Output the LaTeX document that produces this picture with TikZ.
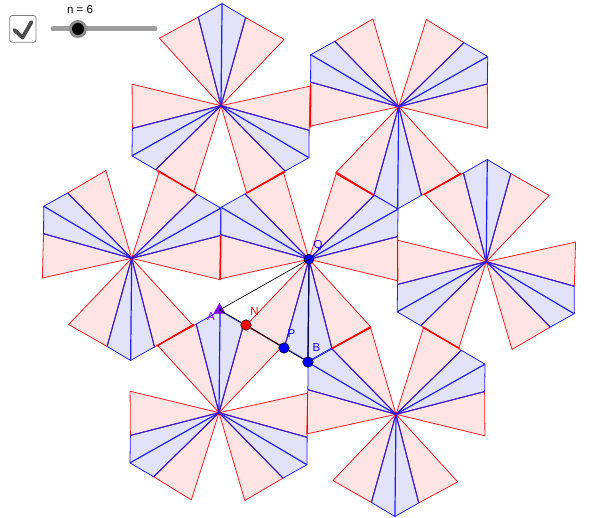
\documentclass[tikz,border=0pt]{standalone}
\usepackage{fontspec}
\usetikzlibrary{shapes.geometric}
\setmainfont{Liberation Sans}
\definecolor{rfill}{RGB}{255,228,228}
\definecolor{bfill}{RGB}{226,226,250}
\definecolor{redl}{RGB}{250,30,40}
\definecolor{bluel}{RGB}{30,30,240}
\definecolor{sidel}{RGB}{60,25,205}
\definecolor{purp}{RGB}{125,0,255}
\tikzset{
  x=1pt,y=1pt,
  redtri/.style={fill=rfill,draw=redl,line width=0.8pt,line join=round},
  bluekite/.style={fill=bfill,draw=bluel,line width=0.8pt,line join=round},
  spoke/.style={draw=bluel,line width=1.2pt},
  sidespoke/.style={draw=sidel,line width=1pt},
  shared/.style={draw=red,line width=1.5pt},
  dot/.style={circle,draw=black,line width=0.5pt,inner sep=0pt,minimum size=10.5pt},
  lab/.style={font=\fontsize{11.5}{13}\selectfont,inner sep=0pt},
  seg/.style={draw=black,line width=0.7pt}
}
% \fig{cx}{cy}{rotation}
\newcommand{\fig}[3]{%
\begin{scope}[shift={(#1,-#2)},rotate=#3-0.6]
  \foreach \a in {90,210,330}{
    \filldraw[redtri] (0,0) -- (\a+15:91.5) -- (\a+43:91.5) -- cycle;
    \filldraw[redtri] (0,0) -- (\a-15:91.5) -- (\a-43:91.5) -- cycle;
  }
  \foreach \a in {90,210,330}{
    \filldraw[bluekite] (0,0) -- (\a-15:91.5) -- (\a:102.2) -- (\a+15:91.5) -- cycle;
    \draw[spoke] (0,0) -- (\a:102.2);
    \draw[sidespoke] (0,0) -- (\a-15:91.5);
    \draw[sidespoke] (0,0) -- (\a+15:91.5);
  }
\end{scope}}
\begin{document}
\begin{tikzpicture}
\useasboundingbox (0,0) rectangle (612,-518);
\fill[white] (0,0) rectangle (612,-518);
\fig{221}{105.7}{0}
\fig{486.2}{261.7}{0}
\fig{219}{412.7}{0}
\fig{398.7}{106.7}{60}
\fig{131.7}{258.3}{60}
\fig{309}{259.3}{60}
\fig{396}{414.3}{60}
% edges shared by two figures
\draw[shared] (157.3,-170.7) -- (196,-193);
\draw[shared] (246.7,-193) -- (285,-171.7);
\draw[shared] (310.7,-85) -- (310.3,-127.7);
\draw[shared] (336,-173.3) -- (373.3,-195);
\draw[shared] (423.3,-195) -- (461,-173.3);
\draw[shared] (397.3,-240) -- (397.3,-281.7);
\draw[shared] (220.7,-236) -- (220.3,-279.3);
\draw[shared] (156.7,-346) -- (194,-324.3);
\draw[shared] (332.3,-348.3) -- (371,-327.3);
\draw[shared] (422.8,-327.3) -- (459.6,-348.5);
\draw[shared] (307.3,-391.7) -- (307.3,-434);
% construction
\coordinate (Aa) at (219.5,-310);
\node[dot,fill=blue,minimum size=10pt] (Q) at (309,-259.3) {};
\node[dot,fill=red] (N) at (246,-325) {};
\node[dot,fill=blue] (P) at (284,-348) {};
\node[dot,fill=blue] (B) at (308,-362) {};
\node[draw=none,fill=purp,regular polygon,regular polygon sides=3,inner sep=0pt,minimum size=14pt] (A) at (219.5,-310) {};
\draw[seg] (Aa) -- (Q.center);
\draw[seg] (Aa) -- (N);
\draw[seg,line width=1pt] (N) -- (P);
\draw[seg] (P) -- (B);
\draw[seg,draw=black!70!blue,line width=1.2pt] (Q) -- (B);
\node[lab,text=purp] (la) at (211,-317) {A};
\node[lab,text=red] (ln) at (254.5,-312) {N};
\node[lab,text=blue] (lp) at (291.5,-333.5) {P};
\node[lab,text=blue!80!purp] (lb) at (316.5,-348) {B};
\node[lab,text=blue!80!purp] (lq) at (318,-246) {Q};
% widgets
\draw[rounded corners=2.5pt,draw=black!50,line width=0.8pt,fill=white] (9.7,-15.5) rectangle (36,-42.3);
\draw[black!70,line width=3.8pt,line cap=round,line join=round] (14.5,-30) -- (22.5,-37.5) -- (31.5,-22);
\draw[black!38,line width=5pt,line cap=round] (53,-29) -- (155,-29);
\fill[black!45] (78,-29) circle (9pt);
\fill[black] (78,-29) circle (6pt);
\node[font=\fontsize{11.5}{13}\selectfont,inner sep=0pt] (nlab) at (80,-10) {n = 6};
\end{tikzpicture}
\end{document}
